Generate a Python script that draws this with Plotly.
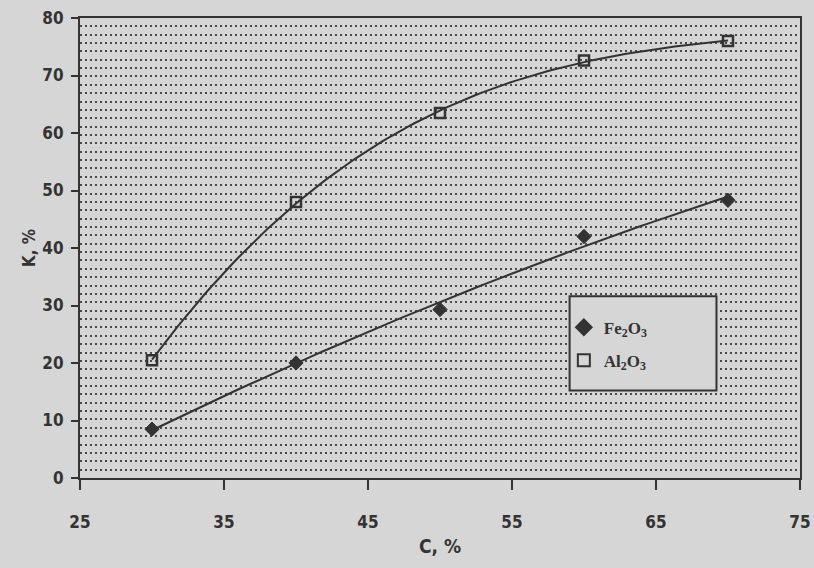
import numpy as np
import plotly.graph_objects as go

# Data
conc = [30, 40, 50, 60, 70]                 # C, %
fe2o3 = [8.5, 20.0, 29.3, 42.0, 48.3]       # K, % for Fe2O3
al2o3 = [20.5, 48.0, 63.5, 72.6, 76.0]      # K, % for Al2O3
x_ticks = [25, 35, 45, 55, 65, 75]
y_ticks = [0, 10, 20, 30, 40, 50, 60, 70, 80]

ink = "#333333"
bg = "#d6d6d6"
narrow = "DejaVu Sans Condensed, Liberation Sans Narrow, Arial Narrow, sans-serif"

# Smooth trend curves (polynomial fits, as in the spreadsheet original)
xs = np.linspace(min(conc), max(conc), 120)
fe_fit = np.polyval(np.polyfit(conc, fe2o3, 2), xs)
al_fit = np.polyval(np.polyfit(conc, al2o3, 3), xs)

fig = go.Figure()
fig.add_trace(go.Scatter(x=xs, y=fe_fit, mode="lines", line=dict(color=ink, width=2),
                         showlegend=False, hoverinfo="skip"))
fig.add_trace(go.Scatter(x=xs, y=al_fit, mode="lines", line=dict(color=ink, width=2),
                         showlegend=False, hoverinfo="skip"))
fig.add_trace(go.Scatter(x=conc, y=fe2o3, mode="markers", name="<b>Fe<sub>2</sub>O<sub>3</sub></b>",
                         legendgroup="fe",
                         marker=dict(symbol="diamond", size=11, color=ink,
                                     line=dict(color=ink, width=1))))
fig.add_trace(go.Scatter(x=conc, y=al2o3, mode="markers", name="<b>Al<sub>2</sub>O<sub>3</sub></b>",
                         legendgroup="al",
                         marker=dict(symbol="square-open", size=10, color=ink,
                                     line=dict(color=ink, width=2.5))))

# legend frame
fig.add_shape(type="rect", xref="paper", yref="paper",
              x0=0.68, x1=0.884, y0=0.19, y1=0.395,
              line=dict(color=ink, width=2), fillcolor=bg, layer="above")

fig.update_layout(
    width=814, height=568,
    margin=dict(l=80, r=14, t=18, b=90, autoexpand=False),
    paper_bgcolor=bg, plot_bgcolor=bg,
    font=dict(family=narrow, size=17, color=ink, weight="bold"),
    showlegend=True,
    legend=dict(x=0.672, y=0.366, xanchor="left", yanchor="top",
                bgcolor="rgba(0,0,0,0)", borderwidth=0,
                font=dict(family="Liberation Serif, Times New Roman, serif", size=17,
                          color=ink),
                tracegroupgap=8, itemsizing="constant"),
    xaxis=dict(range=[25, 75], tickvals=x_ticks, ticks="outside", ticklen=10,
               tickwidth=2, tickcolor=ink, showline=True, linecolor=ink, linewidth=2,
               mirror=True, showgrid=False, zeroline=False, ticklabelstandoff=18,
               automargin=False,
               title=dict(text="C, %", standoff=8,
                          font=dict(family=narrow, size=19, color=ink, weight="bold"))),
    yaxis=dict(range=[0, 80], tickvals=y_ticks, ticks="outside", ticklen=7,
               tickwidth=2, tickcolor=ink, showline=True, linecolor=ink, linewidth=2,
               mirror=True, showgrid=False, zeroline=False, ticklabelstandoff=4,
               automargin=False,
               minor=dict(dtick=1.455, tick0=0, showgrid=True, gridcolor="#4a4a4a",
                          gridwidth=2, griddash="2px,3px", ticks=""),
               title=dict(text="K, %", standoff=2,
                          font=dict(family=narrow, size=17, color=ink, weight="bold"))),
)

fig.write_html("out.html",
               config={"displayModeBar": False},
               post_script="document.body.style.margin='0';"
                           "document.body.style.background='" + bg + "';")
